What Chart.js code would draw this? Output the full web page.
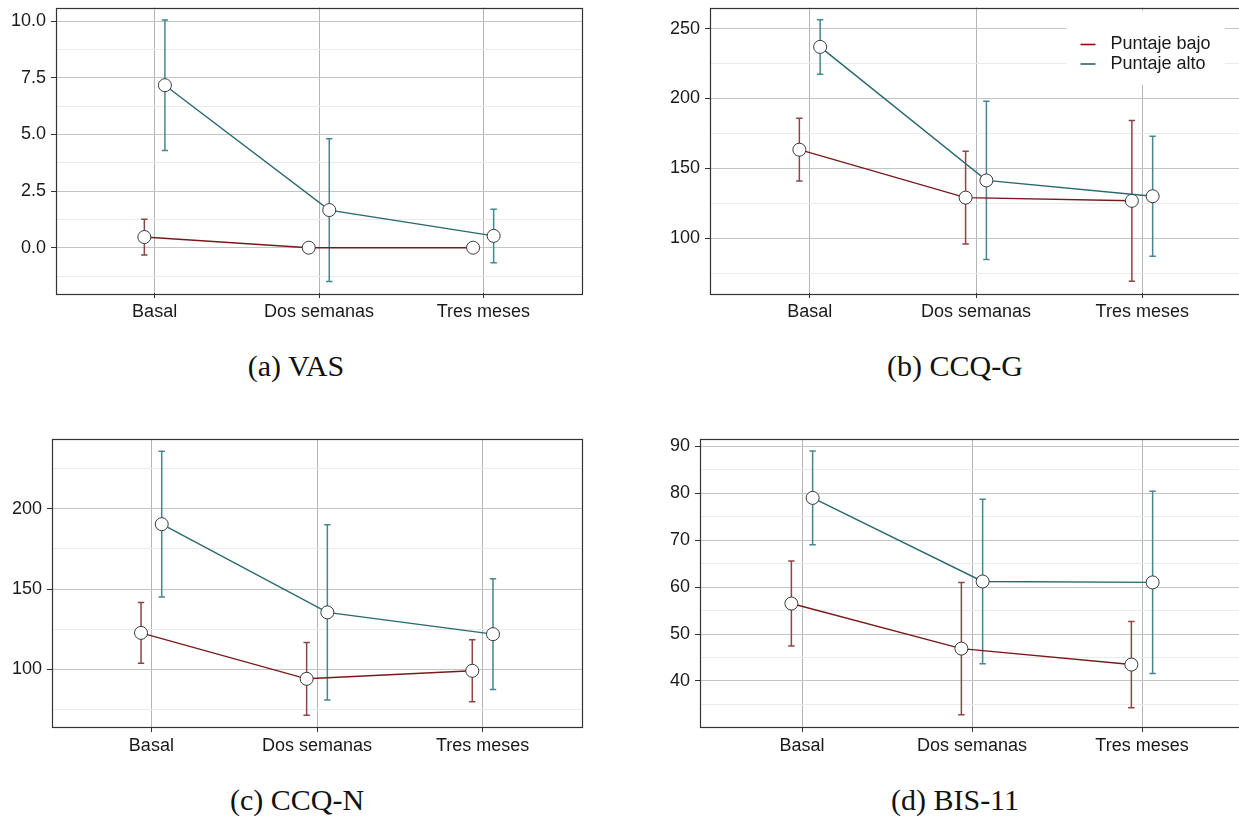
<!DOCTYPE html>
<html>
<head>
<meta charset="utf-8">
<script src="https://cdn.jsdelivr.net/npm/chart.js@4.4.1/dist/chart.umd.min.js"></script>
<style>
  html, body { margin: 0; padding: 0; background: #fff; }
  body { width: 1239px; height: 818px; overflow: hidden; position: relative; }
  canvas.panel { position: absolute; }
  .cap { position: absolute; width: 400px; text-align: center;
         font-family: 'Liberation Serif', 'DejaVu Serif', serif; font-size: 30px;
         line-height: 30px; color: #111; white-space: nowrap; }
</style>
</head>
<body>
<canvas id="vas"  class="panel" width="600" height="330" style="left:0px;top:0px;width:600px;height:330px"></canvas>
<canvas id="ccqg" class="panel" width="700" height="330" style="left:640px;top:0px;width:700px;height:330px"></canvas>
<canvas id="ccqn" class="panel" width="600" height="330" style="left:0px;top:430px;width:600px;height:330px"></canvas>
<canvas id="bis"  class="panel" width="700" height="330" style="left:640px;top:430px;width:700px;height:330px"></canvas>
<div id="capA" class="cap" style="left:96px;top:351px"></div>
<div id="capB" class="cap" style="left:755px;top:351px"></div>
<div id="capC" class="cap" style="left:97px;top:785px"></div>
<div id="capD" class="cap" style="left:755px;top:785px"></div>

<script>
// Time points and groups
const categories = ['Basal', 'Dos semanas', 'Tres meses'];
const seriesNames = ['Puntaje bajo', 'Puntaje alto'];
const captions = ['(a) VAS', '(b) CCQ-G', '(c) CCQ-N', '(d) BIS-11'];

// VAS: means and standard deviations
const vasLow = [0.47, 0.0, 0.0];
const vasLowSd = [0.79, 0, 0];
const vasHigh = [7.17, 1.66, 0.52];
const vasHighSd = [2.88, 3.15, 1.18];

// CCQ-G
const ccqgLow = [163.3, 129.0, 126.7];
const ccqgLowSd = [22.5, 33.2, 57.5];
const ccqgHigh = [236.9, 141.3, 130.0];
const ccqgHighSd = [19.5, 56.7, 43.0];

// CCQ-N
const ccqnLow = [122.6, 93.9, 98.9];
const ccqnLowSd = [19.0, 22.7, 19.4];
const ccqnHigh = [190.5, 135.4, 121.8];
const ccqnHighSd = [45.5, 54.8, 34.6];

// BIS-11
const bisLow = [56.5, 46.9, 43.5];
const bisLowSd = [9.05, 14.1, 9.2];
const bisHigh = [79.0, 61.2, 61.0];
const bisHighSd = [10.0, 17.5, 19.4];

// Axis breaks
const vasTicks = [0, 2.5, 5, 7.5, 10];
const vasMinorTicks = [-1.25, 1.25, 3.75, 6.25, 8.75];
const ccqgTicks = [100, 150, 200, 250];
const ccqgMinorTicks = [75, 125, 175, 225];
const ccqnTicks = [100, 150, 200];
const ccqnMinorTicks = [75, 125, 175, 225];
const bisTicks = [40, 50, 60, 70, 80, 90];
const bisMinorTicks = [35, 45, 55, 65, 75, 85];

const COLORS = { low: '#781a1a', lowBar: '#8e4545', high: '#29686f', highBar: '#44878e' };
const DODGE = 0.0625;
const TICK_FONT = { family: "'Liberation Sans', Arial, sans-serif", size: 18 };

function seriesPoints(values, offset) {
  return values.map((v, i) => ({ x: i + 1 + offset, y: v }));
}

// Panel frame plus vertical error bars with caps, beneath the lines and points
const framePlugin = {
  id: 'frameAndErrors',
  beforeDatasetsDraw(chart) {
    const { ctx, chartArea: a, scales: { x, y } } = chart;
    ctx.save();
    ctx.strokeStyle = '#333';
    ctx.lineWidth = 1.2;
    ctx.strokeRect(Math.round(a.left) + 0.5, Math.round(a.top) + 0.5,
                   Math.round(a.right - a.left), Math.round(a.bottom - a.top));
    chart.data.datasets.forEach(ds => {
      if (!ds.errors) return;
      ctx.strokeStyle = ds.errorColor;
      ctx.lineWidth = 1.5;
      ds.data.forEach((p, i) => {
        const e = ds.errors[i];
        if (!e) return;
        const px = x.getPixelForValue(p.x);
        const top = y.getPixelForValue(p.y + e);
        const bot = y.getPixelForValue(p.y - e);
        ctx.beginPath();
        ctx.moveTo(px, top); ctx.lineTo(px, bot);
        ctx.moveTo(px - 3.2, top); ctx.lineTo(px + 3.2, top);
        ctx.moveTo(px - 3.2, bot); ctx.lineTo(px + 3.2, bot);
        ctx.stroke();
      });
    });
    ctx.restore();
  }
};

// Legend box placed inside the top-right corner of the panel
const insetLegend = {
  id: 'insetLegend',
  afterDatasetsDraw(chart, args, opts) {
    if (!opts || !opts.show) return;
    const { ctx, chartArea: a } = chart;
    const x0 = a.right - 175.5, x1 = a.right - 17;
    const y0 = a.top + 3, y1 = a.top + 77.5;
    ctx.save();
    ctx.fillStyle = '#fff';
    ctx.fillRect(x0, y0, x1 - x0, y1 - y0);
    const rows = [{ c: COLORS.low, t: seriesNames[0], y: a.top + 37 },
                  { c: COLORS.high, t: seriesNames[1], y: a.top + 56.5 }];
    ctx.font = "18px 'Liberation Sans', Arial, sans-serif";
    ctx.textBaseline = 'middle';
    ctx.textAlign = 'left';
    rows.forEach(r => {
      ctx.strokeStyle = r.c;
      ctx.lineWidth = 1.6;
      ctx.beginPath();
      ctx.moveTo(x0 + 14, r.y); ctx.lineTo(x0 + 29, r.y);
      ctx.stroke();
      ctx.fillStyle = '#1a1a1a';
      ctx.fillText(r.t, x0 + 44, r.y);
    });
    ctx.restore();
  }
};

function makeChart(id, cfg) {
  const majors = cfg.majorTicks;
  const isMajor = v => majors.some(m => Math.abs(m - v) < 1e-9);
  const lineDs = (label, values, sd, offset, color, barColor) => ({
    label,
    data: seriesPoints(values, offset),
    errors: sd,
    errorColor: barColor,
    borderColor: color,
    borderWidth: 1.4,
    pointRadius: 6.5,
    pointHoverRadius: 6.5,
    pointBackgroundColor: '#ffffff',
    pointBorderColor: '#3a3a3a',
    pointBorderWidth: 1,
    tension: 0,
    fill: false
  });
  return new Chart(document.getElementById(id), {
    type: 'line',
    data: {
      datasets: [
        lineDs(seriesNames[1], cfg.high, cfg.highSd, DODGE, COLORS.high, COLORS.highBar),
        lineDs(seriesNames[0], cfg.low, cfg.lowSd, -DODGE, COLORS.low, COLORS.lowBar)
      ]
    },
    options: {
      responsive: false,
      animation: false,
      events: [],
      layout: { padding: cfg.padding },
      plugins: {
        legend: { display: false },
        tooltip: { enabled: false },
        insetLegend: { show: !!cfg.legend }
      },
      scales: {
        x: {
          type: 'linear',
          min: 0.4, max: 3.6,
          afterBuildTicks: s => { s.ticks = categories.map((c, i) => ({ value: i + 1 })); },
          afterFit: s => { s.height = cfg.xHeight; s.paddingLeft = 0; s.paddingRight = 0; },
          border: { display: false },
          grid: { color: '#b4b4b4', lineWidth: 1, tickColor: '#333', tickLength: 5, drawTicks: true },
          ticks: {
            callback: v => categories[Math.round(v) - 1] || '',
            autoSkip: false, maxRotation: 0, minRotation: 0,
            font: TICK_FONT, color: '#1a1a1a', padding: 3
          }
        },
        y: {
          type: 'linear',
          min: cfg.yMin, max: cfg.yMax,
          afterBuildTicks: s => {
            s.ticks = majors.concat(cfg.minorTicks).sort((p, q) => p - q).map(v => ({ value: v }));
          },
          afterFit: s => { s.width = cfg.yWidth; s.paddingTop = 0; s.paddingBottom = 0; },
          border: { display: false },
          grid: {
            color: c => (c.tick && isMajor(c.tick.value)) ? '#c4c4c4' : '#ebebeb',
            tickColor: c => (c.tick && isMajor(c.tick.value)) ? '#333' : 'rgba(0,0,0,0)',
            lineWidth: 1, tickLength: 5, drawTicks: true
          },
          ticks: {
            callback: v => isMajor(v) ? v.toFixed(cfg.decimals) : '',
            autoSkip: false,
            font: TICK_FONT, color: '#1a1a1a', padding: 5
          }
        }
      }
    },
    plugins: [framePlugin, insetLegend]
  });
}

makeChart('vas', {
  low: vasLow, lowSd: vasLowSd, high: vasHigh, highSd: vasHighSd,
  majorTicks: vasTicks, minorTicks: vasMinorTicks, decimals: 1,
  yMin: -2.0, yMax: 10.6, yWidth: 56, xHeight: 37,
  padding: { top: 4, right: 18, left: 0, bottom: 0 }
});
makeChart('ccqg', {
  low: ccqgLow, lowSd: ccqgLowSd, high: ccqgHigh, highSd: ccqgHighSd,
  majorTicks: ccqgTicks, minorTicks: ccqgMinorTicks, decimals: 0,
  yMin: 60.7, yMax: 265.1, yWidth: 70, xHeight: 37,
  padding: { top: 4, right: 98, left: 0, bottom: 0 }, legend: true
});
makeChart('ccqn', {
  low: ccqnLow, lowSd: ccqnLowSd, high: ccqnHigh, highSd: ccqnHighSd,
  majorTicks: ccqnTicks, minorTicks: ccqnMinorTicks, decimals: 0,
  yMin: 63.8, yMax: 243.7, yWidth: 52, xHeight: 33,
  padding: { top: 9, right: 18, left: 0, bottom: 0 }
});
makeChart('bis', {
  low: bisLow, lowSd: bisLowSd, high: bisHigh, highSd: bisHighSd,
  majorTicks: bisTicks, minorTicks: bisMinorTicks, decimals: 0,
  yMin: 30.2, yMax: 91.55, yWidth: 60, xHeight: 33,
  padding: { top: 9, right: 96, left: 0, bottom: 0 }
});

['capA', 'capB', 'capC', 'capD'].forEach((id, i) => {
  document.getElementById(id).textContent = captions[i];
});
</script>
</body>
</html>
